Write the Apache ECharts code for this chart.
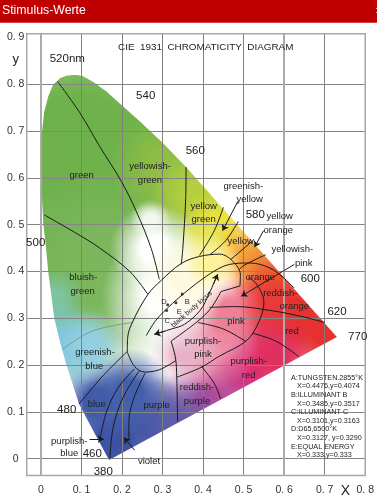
<!DOCTYPE html>
<html>
<head>
<meta charset="utf-8">
<style>
  html, body { margin: 0; padding: 0; background: #fff; }
  #chart { width: 377px; height: 496px; }
</style>
</head>
<body>
<div id="chart"></div>
<script src="https://cdn.jsdelivr.net/npm/echarts@6/dist/echarts.min.js"></script>
<script>
const FONT = '"Liberation Sans", Arial, sans-serif';

// axis ticks
const xTicks = [0, 0.1, 0.2, 0.3, 0.4, 0.5, 0.6, 0.7, 0.8];
const xTickLabels = ["0", "0. 1", "0. 2", "0. 3", "0. 4", "0. 5", "0. 6", "0. 7", "0. 8"];
const yTicks = [0, 0.1, 0.2, 0.3, 0.4, 0.5, 0.6, 0.7, 0.8];
const yLabelTicks = [0, 0.1, 0.2, 0.3, 0.4, 0.5, 0.6, 0.7, 0.8, 0.9];
const yTickLabels = ["0", "0. 1", "0. 2", "0. 3", "0. 4", "0. 5", "0. 6", "0. 7", "0. 8", "0. 9"];
const heavyGridX = [0, 0.6];

// spectrum locus, from the top going down the left side, then the purple line
const locus = [
  [0.079, 0.820], [0.062, 0.818], [0.047, 0.813], [0.030, 0.799], [0.018, 0.774], [0.008, 0.740],
  [0.0025, 0.697], [0.001, 0.650], [0.001, 0.600], [0.003, 0.550], [0.006, 0.500], [0.012, 0.457],
  [0.018, 0.400], [0.033, 0.300], [0.047, 0.250], [0.063, 0.200], [0.094, 0.117], [0.133, 0.053],
  [0.168, -0.003], [0.730, 0.260], [0.358, 0.623], [0.300, 0.675], [0.247, 0.718], [0.198, 0.756],
  [0.161, 0.785], [0.129, 0.805], [0.104, 0.817], [0.090, 0.820]
];

// colour wash under the locus: x, y, radius (in x units)
const washSpots = [
  [0.08, 0.66, 0.42], [0.20, 0.64, 0.34], [0.07, 0.42, 0.32], [0.15, 0.42, 0.22],
  [0.32, 0.62, 0.15], [0.39, 0.56, 0.12], [0.44, 0.49, 0.10], [0.40, 0.46, 0.08],
  [0.52, 0.43, 0.10], [0.57, 0.38, 0.10], [0.62, 0.30, 0.16], [0.70, 0.27, 0.10], [0.54, 0.31, 0.10],
  [0.50, 0.19, 0.14], [0.58, 0.22, 0.10], [0.42, 0.11, 0.13], [0.33, 0.07, 0.13], [0.27, 0.08, 0.11],
  [0.18, 0.04, 0.14], [0.14, 0.12, 0.11], [0.22, 0.14, 0.11],
  [0.03, 0.34, 0.08], [0.06, 0.24, 0.11], [0.12, 0.24, 0.09],
  [0.42, 0.25, 0.12], [0.46, 0.31, 0.09], [0.36, 0.23, 0.09],
  [0.30, 0.35, 0.15], [0.28, 0.45, 0.11], [0.27, 0.51, 0.05], [0.36, 0.39, 0.11], [0.42, 0.42, 0.07]
];
const washColors = [
  "#6cb14a", "#6fb24b", "#6fb24e", "#7cb75e",
  "#8fbe45", "#b5cf3e", "#eee23c", "#e4e35a",
  "#f4a53a", "#ee6a35", "#e6322e", "#e6322e", "#e83a3a",
  "#d9327f", "#e0305f", "#b34b9a", "#6d5aa8", "#5a5fa8",
  "#3e52a3", "#3f5aa8", "#4460ac",
  "#7ec3a0", "#7cc5dc", "#92cfe0",
  "#ee8ea8", "#ee7f95", "#e8b3c8",
  "#ffffff", "#ffffff", "#f4f7ee", "#fdf9e0", "#fdf29a"
];

// region boundaries
const curveGreen = [[0.041, 0.806], [0.096, 0.739], [0.145, 0.667], [0.198, 0.593], [0.236, 0.527], [0.272, 0.449], [0.292, 0.383]];
const curveBluish = [[0.008, 0.521], [0.096, 0.477], [0.145, 0.450], [0.219, 0.400], [0.264, 0.351]];
const curveYellowGreen = [[0.358, 0.623], [0.357, 0.555], [0.350, 0.449], [0.346, 0.415]];
const curveGreenishYellow = [[0.450, 0.537], [0.4275, 0.487], [0.391, 0.434]];
const curveYellow = [[0.487, 0.507], [0.456, 0.466], [0.417, 0.436]];
const curveYellowOrange = [[0.523, 0.466], [0.469, 0.426]];
const curveOrange = [[0.555, 0.436], [0.501, 0.413], [0.489, 0.404]];
const ellipseTop = [[0.213, 0.228], [0.214, 0.259], [0.227, 0.294], [0.264, 0.351], [0.297, 0.381], [0.346, 0.417], [0.391, 0.432], [0.441, 0.437], [0.473, 0.422], [0.492, 0.393], [0.491, 0.369]];
const ellipseBottom = [[0.213, 0.228], [0.231, 0.197], [0.256, 0.185], [0.292, 0.190], [0.332, 0.209]];
const whiteEdge = [[0.491, 0.369], [0.444, 0.357]];
const whiteEdgeLow = [[0.444, 0.357], [0.419, 0.321], [0.386, 0.293], [0.321, 0.251]];
const purplePinkEdge = [[0.321, 0.251], [0.332, 0.215], [0.335, 0.174], [0.337, 0.079]];
const innerArc = [[0.260, 0.263], [0.284, 0.296], [0.325, 0.332], [0.383, 0.374], [0.432, 0.403], [0.465, 0.415], [0.514, 0.418], [0.572, 0.404], [0.624, 0.365]];
const pinkArc = [[0.511, 0.387], [0.531, 0.374], [0.550, 0.335], [0.538, 0.293], [0.507, 0.252], [0.440, 0.219], [0.395, 0.195], [0.335, 0.174]];
const redTop = [[0.416, 0.323], [0.482, 0.325], [0.563, 0.317], [0.637, 0.305], [0.700, 0.291]];
const pinkPurple = [[0.387, 0.291], [0.450, 0.277], [0.506, 0.250]];
const redLow = [[0.522, 0.268], [0.580, 0.251], [0.636, 0.218]];
const reddishPurple = [[0.396, 0.197], [0.428, 0.160], [0.443, 0.128]];
const blackBody = [[0.436, 0.394], [0.415, 0.353], [0.393, 0.317], [0.354, 0.287], [0.322, 0.277], [0.280, 0.266]];
const blueEdge = [[0.213, 0.229], [0.153, 0.177], [0.094, 0.117]];
const purplishBlue = [[0.231, 0.192], [0.190, 0.151], [0.161, 0.098], [0.145, 0.039]];
const blueViolet = [[0.242, 0.187], [0.202, 0.130], [0.178, 0.066], [0.170, -0.001]];
const violetPurple = [[0.257, 0.183], [0.227, 0.124], [0.217, 0.075], [0.217, 0.039]];
const faintLine = [[0.053, 0.234], [0.128, 0.273], [0.227, 0.291]];

const curves = [
  curveGreen, curveBluish, curveYellowGreen, curveGreenishYellow, curveYellow, curveYellowOrange, curveOrange,
  ellipseTop, ellipseBottom, whiteEdge, whiteEdgeLow, purplePinkEdge, innerArc, pinkArc, redTop, pinkPurple,
  redLow, reddishPurple, blackBody, blueEdge, purplishBlue, blueViolet, violetPurple
];

// pointers, tail then head
const pointers = [
  [[0.486, 0.550], [0.448, 0.487]],
  [[0.549, 0.487], [0.527, 0.452]],
  [[0.625, 0.415], [0.494, 0.347]],
  [[0.120, 0.042], [0.155, 0.042]],
  [[0.231, 0.018], [0.205, 0.045]],
  [[0.425, 0.372], [0.436, 0.394]],
  [[0.305, 0.272], [0.280, 0.266]]
];

// illuminant points B, C, D, E
const illuminants = [[0.3485, 0.3517], [0.3101, 0.3163], [0.3127, 0.3290], [0.333, 0.333]];
const illuminantNames = ["B", "C", "D", "E"];
const illuminantLabelPos = [[187.3, 301.7], [167.3, 320.7], [164, 301.7], [179.3, 311.7]];

const regionNames = [
  "green", "yellowish-", "green", "yellow", "green", "greenish-", "yellow", "yellow", "orange", "yellow",
  "yellowish-", "pink", "orange", "reddish-", "orange", "red", "pink", "purplish-", "pink", "purplish-",
  "red", "reddish-", "purple", "purple", "blue", "greenish-", "blue", "bluish-", "green", "purplish-", "blue", "violet"
];
const regionNamePos = [
  [81.7, 175.7], [150, 166], [150, 180], [203.7, 206], [203.7, 219.3], [243.3, 186], [249.7, 199.3], [279.7, 216.7], [278.3, 230.7], [240.7, 241],
  [292.3, 249.3], [303.7, 263.3], [260.3, 277], [280.3, 293], [294.3, 306.3], [292, 331.7], [236, 321.7], [203, 341], [203, 354.3], [248.7, 361.7],
  [248.7, 375], [197, 387.7], [197, 401.7], [156.7, 405], [96.7, 404.3], [95, 352.7], [94.3, 366], [83.3, 277], [82.7, 291], [69.3, 441.3], [69.3, 453.3], [149, 461.7]
];

const wavelengths = ["520nm", "540", "560", "580", "600", "620", "770", "500", "480", "460", "380"];
const wavelengthPos = [[67.3, 59], [145.7, 96.3], [195.3, 150.7], [255.3, 215], [310.3, 279.3], [337, 311.7], [357.7, 337.3], [35.7, 243.3], [66.7, 409.7], [92.3, 454.3], [103.3, 472]];

const noteLines = [
  "A:TUNGSTEN.2855°K", "   X=0.4476,y=0.4074",
  "B:ILLUMINANT B", "   X=0.3485,y=0.3517",
  "C:ILLUMINANT C", "   X=0.3101,y=0.3163",
  "D:D65,6500°K", "   X=0.3127, y=0.3290",
  "E:EQUAL ENERGY", "   X=0.333,y=0.333"
];

const X_MIN = -0.0351, X_MAX = 0.8, Y_MIN = -0.036, Y_MAX = 0.908;

function centered(str, pos, size, extra) {
  return Object.assign({
    type: "text", x: pos[0], y: pos[1], z: 20, silent: true,
    style: { text: str, fill: "#222", font: size + "px " + FONT, textAlign: "center", textVerticalAlign: "middle" }
  }, extra || {});
}

const textElements = [];
regionNames.forEach((n, i) => textElements.push(centered(n, regionNamePos[i], 9.5)));
wavelengths.forEach((n, i) => textElements.push(centered(n, wavelengthPos[i], 11.5)));
illuminantNames.forEach((n, i) => textElements.push(centered(n, illuminantLabelPos[i], 7.5)));
textElements.push(centered("black body locus", [191.7, 309.3], 7, { rotation: 0.72 }));
textElements.push(centered("y", [15.7, 59], 13));
textElements.push(centered("X", [345.3, 491], 14));
noteLines.forEach((line, i) => {
  textElements.push({
    type: "text", x: 291, y: 377.7 + i * 8.63, z: 20, silent: true,
    style: { text: line, fill: "#222", font: "7.2px " + FONT, textAlign: "left", textVerticalAlign: "middle" }
  });
});

const lineSeries = curves.map((points) => ({
  type: "line", data: points, smooth: 0.35, showSymbol: false, symbol: "none", silent: true, z: 4, clip: false,
  lineStyle: { color: "#1a1a1a", width: 1 }
}));

const chart = echarts.init(document.getElementById("chart"), null, { renderer: "canvas" });
chart.setOption({
  animation: false,
  backgroundColor: "#fff",
  title: [
    { text: "CIE  1931  CHROMATICITY  DIAGRAM", left: 118, top: 42.5, padding: 0, z: 20,
      textStyle: { color: "#222", fontFamily: FONT, fontSize: 9.9, fontWeight: "normal" } }
  ],
  grid: { left: 26.7, right: 10.7, top: 33.7, bottom: 17.7, show: true, backgroundColor: "transparent", borderColor: "#a8a8a8", borderWidth: 1.5, z: 5 },
  xAxis: {
    type: "value", min: X_MIN, max: X_MAX, z: 2,
    axisLine: { show: false },
    axisTick: { show: false, customValues: xTicks },
    splitLine: { show: true, lineStyle: { color: "#7f7f7f", width: 1 } },
    axisLabel: {
      customValues: xTicks, margin: 9.5, color: "#333", fontFamily: FONT, fontSize: 10.5,
      formatter: (v) => xTickLabels[xTicks.indexOf(v)]
    }
  },
  yAxis: {
    type: "value", min: Y_MIN, max: Y_MAX, z: 2,
    axisLine: { show: false },
    axisTick: { show: false, customValues: yTicks },
    splitLine: { show: true, lineStyle: { color: "#858585", width: 1.2 } },
    axisLabel: {
      customValues: yLabelTicks, margin: 11, align: "center", color: "#333", fontFamily: FONT, fontSize: 10.5,
      formatter: (v) => yTickLabels[yLabelTicks.indexOf(v)]
    }
  },
  graphic: [
    { type: "rect", z: 30, silent: true, shape: { x: 0, y: 0, width: 377, height: 22.7 }, style: { fill: "#c00000" } },
    { type: "text", z: 31, silent: true, x: 2, y: 11, style: { text: "Stimulus-Werte", fill: "#fff", font: "12.3px " + FONT, textVerticalAlign: "middle" } },
    { type: "text", z: 31, silent: true, x: 375.5, y: 10.5, style: { text: ":", fill: "#fff", font: "9px " + FONT, textVerticalAlign: "middle" } },
    ...textElements
  ],
  series: [
    {
      // colour wash
      type: "custom", coordinateSystem: "cartesian2d", z: 0, silent: true, clip: true,
      data: washSpots,
      encode: { x: 0, y: 1 },
      renderItem: (params, api) => {
        const c = api.coord([api.value(0), api.value(1)]);
        const r = api.size([api.value(2), 0])[0];
        const col = washColors[params.dataIndex];
        return {
          type: "circle", shape: { cx: c[0], cy: c[1], r: r },
          style: { fill: new echarts.graphic.RadialGradient(0.5, 0.5, 0.5, [
            { offset: 0, color: col },
            { offset: 0.3, color: col },
            { offset: 1, color: echarts.color.modifyAlpha(col, 0) }
          ]) }
        };
      }
    },
    {
      // white outside the locus
      type: "custom", coordinateSystem: "cartesian2d", z: 1, silent: true, clip: true,
      data: [[0, 0]],
      renderItem: (params, api) => {
        const outer = [[X_MIN, Y_MAX], [X_MAX, Y_MAX], [X_MAX, Y_MIN], [X_MIN, Y_MIN], [X_MIN, Y_MAX]];
        const ring = locus.concat([locus[0]]);
        return {
          type: "polygon",
          shape: { points: outer.concat(ring).map((p) => api.coord(p)) },
          style: { fill: "#fff" }
        };
      }
    },
    {
      // heavier grid lines
      type: "line", data: [], z: 3, silent: true,
      markLine: {
        silent: true, animation: false, symbol: "none", z: 3, label: { show: false },
        lineStyle: { color: "#ababab", width: 2, type: "solid" },
        data: heavyGridX.map((x) => ({ xAxis: x }))
      }
    },
    {
      type: "line", data: faintLine, smooth: 0.35, showSymbol: false, symbol: "none", silent: true, z: 4,
      lineStyle: { color: "#6f8f8f", width: 0.8 }
    },
    ...lineSeries,
    {
      // pointers
      type: "line", data: [], z: 4, silent: true,
      markLine: {
        silent: true, animation: false, z: 4, symbol: ["none", "arrow"], symbolSize: 6, label: { show: false },
        lineStyle: { color: "#1a1a1a", width: 1, type: "solid" },
        data: pointers.map((p) => [{ coord: p[0] }, { coord: p[1] }])
      }
    },
    {
      type: "scatter", data: illuminants, symbol: "circle", symbolSize: 3, silent: true, z: 5,
      itemStyle: { color: "#111" }
    }
  ]
});
</script>
</body>
</html>
